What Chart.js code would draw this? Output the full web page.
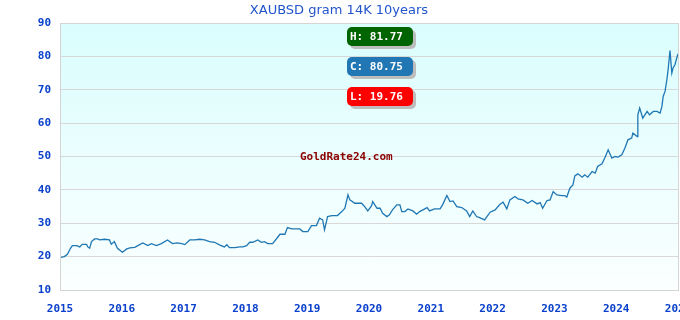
<!DOCTYPE html>
<html>
<head>
<meta charset="utf-8">
<script src="https://cdn.jsdelivr.net/npm/chart.js@4/dist/chart.umd.min.js"></script>
<style>
  html, body { margin: 0; padding: 0; background: #fff; overflow: hidden; }
  #wrap { position: relative; width: 680px; height: 320px; overflow: hidden; }
  #chart { position: absolute; left: 0; top: 0; }
  .title { position: absolute; left: 0; width: 678px; top: 2px; text-align: center;
    font: 13px "DejaVu Sans", sans-serif; color: #2255cc; }
  .tag { position: absolute; left: 347px; width: 63px; height: 16px; line-height: 16px;
    padding: 3px 0 0 3px; border-radius: 5px; color: #fff; box-shadow: 3px 3px 0 #bdbdbd;
    font: bold 11px "DejaVu Sans Mono", monospace; }
  .mark { position: absolute; left: 300px; top: 150px; color: #8b0000;
    font: bold 11px "DejaVu Sans Mono", monospace; }
</style>
</head>
<body>
<div id="wrap">
  <canvas id="chart" width="700" height="320"></canvas>
  <div class="title">XAUBSD gram 14K 10years</div>
  <div class="tag" id="tagH" style="top:27px;background:#006400"></div>
  <div class="tag" id="tagC" style="top:57px;background:#2077b4"></div>
  <div class="tag" id="tagL" style="top:87px;background:#ff0000"></div>
  <div class="mark">GoldRate24.com</div>
</div>
<script>
  // time position (fractional year) and price per gram
  const years = [
    2015.01, 2015.07, 2015.12, 2015.17, 2015.20, 2015.27, 2015.32, 2015.36, 2015.43, 2015.45,
    2015.48, 2015.51, 2015.56, 2015.61, 2015.64, 2015.72, 2015.80, 2015.83, 2015.88, 2015.93,
    2016.01, 2016.08, 2016.13, 2016.21, 2016.26, 2016.34, 2016.42, 2016.48, 2016.56, 2016.64,
    2016.74, 2016.82, 2016.90, 2016.97, 2017.02, 2017.10, 2017.18, 2017.26, 2017.34, 2017.42,
    2017.50, 2017.58, 2017.66, 2017.70, 2017.74, 2017.83, 2017.91, 2017.96, 2018.02, 2018.07,
    2018.12, 2018.20, 2018.26, 2018.31, 2018.36, 2018.44, 2018.51, 2018.56, 2018.64, 2018.68,
    2018.75, 2018.88, 2018.93, 2019.01, 2019.07, 2019.15, 2019.20, 2019.25, 2019.28, 2019.33,
    2019.40, 2019.49, 2019.56, 2019.61, 2019.66, 2019.69, 2019.77, 2019.88, 2019.93, 2019.98,
    2020.04, 2020.06, 2020.13, 2020.18, 2020.22, 2020.29, 2020.33, 2020.38, 2020.45, 2020.50,
    2020.53, 2020.58, 2020.63, 2020.71, 2020.77, 2020.82, 2020.94, 2020.98, 2021.06, 2021.15,
    2021.19, 2021.26, 2021.31, 2021.36, 2021.42, 2021.50, 2021.58, 2021.63, 2021.68, 2021.74,
    2021.79, 2021.87, 2021.96, 2022.04, 2022.12, 2022.17, 2022.23, 2022.28, 2022.36, 2022.41,
    2022.49, 2022.57, 2022.64, 2022.72, 2022.77, 2022.81, 2022.88, 2022.93, 2022.98, 2023.04,
    2023.12, 2023.17, 2023.20, 2023.25, 2023.30, 2023.33, 2023.38, 2023.45, 2023.49, 2023.54,
    2023.61, 2023.66, 2023.70, 2023.77, 2023.82, 2023.87, 2023.93, 2023.98, 2024.03, 2024.09,
    2024.14, 2024.19, 2024.25, 2024.27, 2024.34, 2024.35, 2024.38, 2024.43, 2024.50, 2024.54,
    2024.60, 2024.66, 2024.71, 2024.74, 2024.76, 2024.79, 2024.82, 2024.84, 2024.87, 2024.90,
    2024.92, 2024.95, 2024.98, 2025.00
  ];
  const prices = [
    19.76, 20.0, 20.7, 22.5, 23.3, 23.3, 22.9, 23.7, 23.7, 22.9,
    22.5, 24.5, 25.3, 25.3, 25.0, 25.2, 25.0, 23.7, 24.5, 22.5,
    21.3, 22.3, 22.6, 22.8, 23.3, 24.1, 23.3, 23.9, 23.3, 23.9,
    25.0, 23.9, 24.1, 23.9, 23.6, 25.0, 25.0, 25.2, 25.0, 24.5,
    24.3, 23.5, 22.9, 23.6, 22.7, 22.7, 22.9, 22.9, 23.3, 24.3,
    24.3, 25.0, 24.3, 24.5, 23.9, 23.9, 25.5, 26.7, 26.7, 28.7,
    28.3, 28.3, 27.5, 27.5, 29.3, 29.3, 31.5, 31.0, 28.0, 32.0,
    32.3, 32.3, 33.5, 34.5, 38.5, 37.0, 36.0, 36.0, 35.0, 33.7,
    35.2, 36.5, 34.5, 34.5, 33.0, 32.0, 32.5, 34.0, 35.5, 35.5,
    33.5, 33.5, 34.3, 33.7, 32.7, 33.5, 34.7, 33.7, 34.3, 34.3,
    35.5, 38.3, 36.5, 36.7, 35.0, 34.7, 33.7, 32.0, 33.7, 32.0,
    31.7, 31.0, 33.3, 34.0, 35.7, 36.3, 34.3, 37.0, 38.0, 37.3,
    37.0, 36.0, 36.8, 35.8, 36.2, 34.5, 36.8, 37.0, 39.5, 38.5,
    38.3, 38.3, 37.8, 40.5, 41.5, 44.2, 44.8, 43.8, 44.5, 43.8,
    45.5, 45.0, 47.0, 47.8, 49.8, 52.0, 49.5, 50.0, 49.8, 50.5,
    52.5, 55.0, 55.5, 57.0, 56.0, 62.5, 64.5, 61.5, 63.5, 62.5,
    63.5, 63.5, 63.0, 65.0, 68.0, 69.5, 73.0, 76.0, 81.77, 75.0,
    76.5, 77.5, 79.5, 80.75
  ];
  const yearTicks = [2015, 2016, 2017, 2018, 2019, 2020, 2021, 2022, 2023, 2024, 2025];
  const priceTicks = [10, 20, 30, 40, 50, 60, 70, 80, 90];
  const high = 81.77, close = 80.75, low = 19.76;

  document.getElementById('tagH').textContent = 'H: ' + high.toFixed(2);
  document.getElementById('tagC').textContent = 'C: ' + close.toFixed(2);
  document.getElementById('tagL').textContent = 'L: ' + low.toFixed(2);

  const tickFont = { family: 'DejaVu Sans Mono', size: 11, weight: 'bold' };
  const tickColor = '#0a40cc';

  // gradient plot background and a thin frame round the plot area
  const plotBox = {
    id: 'plotBox',
    beforeDraw(chart) {
      const { ctx, chartArea: a } = chart;
      const g = ctx.createLinearGradient(0, a.top, 0, a.bottom);
      g.addColorStop(0, '#dafdfd');
      g.addColorStop(1, '#fbffff');
      ctx.save();
      ctx.fillStyle = g;
      ctx.fillRect(a.left, a.top, a.right - a.left, a.bottom - a.top);
      ctx.restore();
    },
    afterDraw(chart) {
      const { ctx, chartArea: a } = chart;
      ctx.save();
      ctx.strokeStyle = '#d4d4d4';
      ctx.lineWidth = 1;
      ctx.strokeRect(Math.round(a.left) + 0.5, Math.round(a.top) + 0.5,
        Math.round(a.right - a.left), Math.round(a.bottom - a.top));
      ctx.restore();
    }
  };

  new Chart(document.getElementById('chart'), {
    type: 'line',
    data: {
      datasets: [{
        data: years.map((y, i) => ({ x: y, y: prices[i] })),
        borderColor: '#1f77b4',
        borderWidth: 1.3,
        pointRadius: 0,
        tension: 0,
        fill: false
      }]
    },
    options: {
      responsive: false,
      animation: false,
      layout: { padding: { top: 23, right: 22, left: 0, bottom: 0 } },
      plugins: { legend: { display: false }, tooltip: { enabled: false } },
      scales: {
        x: {
          type: 'linear',
          min: yearTicks[0],
          max: yearTicks[yearTicks.length - 1],
          afterFit: s => { s.height = 30; },
          afterBuildTicks: s => { s.ticks = yearTicks.map(v => ({ value: v })); },
          grid: { display: false },
          border: { color: '#d4d4d4' },
          ticks: { font: tickFont, color: tickColor, padding: 5, maxRotation: 0,
            autoSkip: false, callback: v => String(v) }
        },
        y: {
          min: priceTicks[0],
          max: priceTicks[priceTicks.length - 1],
          afterFit: s => { s.width = 60; },
          afterBuildTicks: s => { s.ticks = priceTicks.map(v => ({ value: v })); },
          grid: { color: '#d8d8d8', drawTicks: false },
          border: { color: '#d4d4d4' },
          ticks: { font: tickFont, color: tickColor, padding: 9 }
        }
      }
    },
    plugins: [plotBox]
  });
</script>
</body>
</html>
